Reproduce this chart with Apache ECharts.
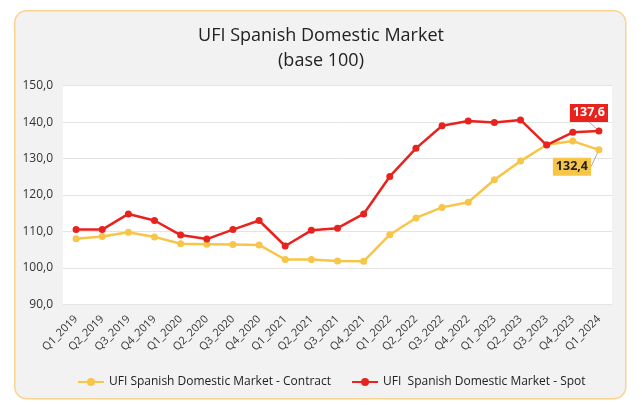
<!DOCTYPE html>
<html><head><meta charset="utf-8">
<script src="https://cdn.jsdelivr.net/npm/echarts@6/dist/echarts.min.js"></script>
<style>html,body{margin:0;padding:0;background:#fff;}#c{width:642px;height:405px;}</style>
</head><body><div id="c"></div>
<script>
const categories = ['Q1_2019','Q2_2019','Q3_2019','Q4_2019','Q1_2020','Q2_2020','Q3_2020','Q4_2020','Q1_2021','Q2_2021','Q3_2021','Q4_2021','Q1_2022','Q2_2022','Q3_2022','Q4_2022','Q1_2023','Q2_2023','Q3_2023','Q4_2023','Q1_2024'];
const contract = [108.0,108.6,109.8,108.5,106.6,106.5,106.4,106.3,102.3,102.3,101.9,101.8,109.1,113.7,116.6,118.0,124.2,129.3,133.8,134.8,132.4];
const spot = [110.5,110.5,114.8,113.0,109.0,107.9,110.5,113.0,106.0,110.3,110.9,114.8,125.1,132.8,139.0,140.3,139.9,140.6,133.7,137.2,137.6];
const yTicks = [90,100,110,120,130,140,150];
const titleLines = ['UFI Spanish Domestic Market','(base 100)'];
const seriesNames = ['UFI Spanish Domestic Market - Contract','UFI  Spanish Domestic Market - Spot'];

const fmt = v => v.toFixed(1).replace('.', ',');
const FONT = '"Open Sans", "Noto Sans", sans-serif';
const chart = echarts.init(document.getElementById('c'));
function lastLabelData(arr, labelStyle){
  return arr.map((v,i)=> i===arr.length-1 ? {value:v, label:Object.assign({show:true, formatter:p=>fmt(p.value)}, labelStyle)} : v);
}
chart.setOption({
  backgroundColor:'#fff',
  textStyle:{fontFamily:FONT},
  graphic:[{type:'rect', left:14, top:10, shape:{width:611, height:388, r:12}, style:{fill:'#f2f2f2', stroke:'#fbd38f', lineWidth:1.5}, z:-10}],
  title:{text:titleLines.join('\n'), left:'center', top:18, textStyle:{fontFamily:FONT, fontSize:18, fontWeight:'normal', color:'#222', lineHeight:25}},
  grid:{left:63, right:30, top:85.7, bottom:100.7, show:true, backgroundColor:'#fff', borderWidth:0},
  legend:{left:72, top:371, itemGap:20, itemWidth:26, itemHeight:10, textStyle:{fontFamily:FONT, fontSize:12, color:'#222'}, data:seriesNames},
  xAxis:{type:'category', data:categories, boundaryGap:true,
    axisLine:{show:false}, axisTick:{show:false},
    axisLabel:{rotate:45, fontSize:11, color:'#333', margin:13, interval:0, fontFamily:FONT}},
  yAxis:{type:'value', min:yTicks[0], max:yTicks[yTicks.length-1], interval:10,
    axisLine:{show:false}, axisTick:{show:false},
    splitLine:{lineStyle:{color:'#e3e3e3', width:1}},
    axisLabel:{formatter:v=>fmt(v), fontSize:12, color:'#333', margin:10, fontFamily:FONT}},
  series:[
    {name:seriesNames[0], type:'line', data:lastLabelData(contract,{backgroundColor:'#f7c548', color:'#222', fontWeight:'bold', fontSize:12.5, padding:[3,3,2,3], position:'inside'}),
     symbol:'circle', symbolSize:7, lineStyle:{color:'#f7c548', width:2.5}, itemStyle:{color:'#f7c548'},
     labelLayout:{dx:-27, dy:17}, labelLine:{show:true, lineStyle:{color:'#aaa', width:1}}, z:2},
    {name:seriesNames[1], type:'line', data:lastLabelData(spot,{backgroundColor:'#e8231e', color:'#fff', fontWeight:'bold', fontSize:12.5, padding:[3,3,2,3], position:'inside'}),
     symbol:'circle', symbolSize:7, lineStyle:{color:'#e8231e', width:2.5}, itemStyle:{color:'#e8231e'},
     labelLayout:{dx:-10, dy:-18}, labelLine:{show:true, lineStyle:{color:'#aaa', width:1}}, z:3}
  ]
});
</script></body></html>
